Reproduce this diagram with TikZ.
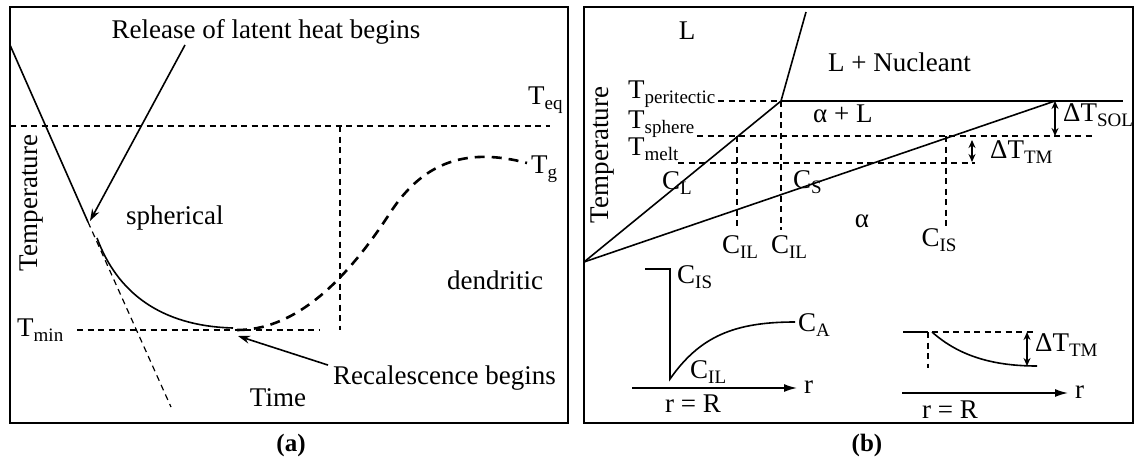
\documentclass[tikz,border=0pt]{standalone}
\usepackage{fontspec}
\setmainfont{Liberation Serif}
\usetikzlibrary{arrows.meta}
\newcommand{\lowsub}[1]{\raisebox{-5.5pt}{\fontsize{19}{20}\selectfont #1}}

\begin{document}
\begin{tikzpicture}[x=1pt,y=-1pt,
  every node/.style={font=\fontsize{27}{30}\selectfont, inner sep=0pt},
  frame/.style={line width=2.6pt},
  curve/.style={line width=1.6pt},
  guide/.style={line width=1.2pt, dash pattern=on 6pt off 4.5pt},
  growth/.style={line width=2.6pt, dash pattern=on 10pt off 7pt},
  tip/.style={-{Stealth[length=12pt,width=8pt]}},
  axis/.style={line width=1.6pt, -{Latex[length=13pt,width=8pt]}},
  gap/.style={line width=1.6pt, {Stealth[length=8pt,width=7pt]}-{Stealth[length=8pt,width=7pt]}}]
\useasboundingbox (0,0) rectangle (1134,460);

% Panel (a): cooling curve
\draw[frame] (10,7) rectangle (568,423);
\coordinate (cool) at (10,45);
\coordinate (nuc) at (88,222);
\draw[curve] (cool) -- (nuc);
\draw[guide] (nuc) -- (171,407);
\draw[guide] (10,126) -- (550,126);
\draw[guide] (340,126) -- (340,330);
\draw[guide] (77,330) -- (320,330);
\draw[curve] (97,238) .. controls (117,292) and (160,326) .. (233,328);
\draw[growth] (237,330) .. controls (290,330) and (340,290) .. (390,213)
  .. controls (425,159) and (470,148) .. (527,163);

% labels (a)
\node[anchor=base] (release) at (266,38) {Release of latent heat begins};
\coordinate (relfoot) at (185,45);
\draw[curve, tip] (relfoot) -- (90,221);
\node[anchor=base west] (teq) at (528,104) {T\lowsub{eq}};
\node[anchor=base west] (tg) at (531,173) {T\lowsub{g}};
\node[anchor=base west] (tmin) at (17,336) {T\lowsub{min}};
\node[rotate=90] (tempa) at (32,203) {Temperature};
\node[anchor=base west] (sph) at (126,224) {spherical};
\node[anchor=base] (dend) at (495,289) {dendritic};
\node[anchor=base west] (recal) at (333,384) {Recalescence begins};
\coordinate (recstart) at (238,336);
\draw[curve, tip] ([xshift=-5pt]recal.north west) -- (recstart);
\node[anchor=base] (time) at (278,406) {Time};
\node[font=\fontsize{25}{28}\selectfont\bfseries] (capa) at (291,445) {(a)};

% Panel (b): phase diagram
\draw[frame] (584,7) rectangle (1133,423);
\coordinate (origin) at (584,262);
\coordinate (peri) at (781,101);
\coordinate (solend) at (1055,101);
\draw[curve] (origin) -- (peri) -- (806,12);
\draw[curve] (peri) -- (1123,101);
\draw[curve] (origin) -- (solend);

\draw[guide] (718,101) -- (peri);
\draw[guide] (697,136) -- (1093,136);
\draw[guide] (678,163) -- (975,163);
\draw[guide] (737,136) -- (737,230);
\draw[guide] (peri) -- (781,230);
\draw[guide] (946,136) -- (946,230);
\draw[gap] (solend) -- (1055,136);
\draw[gap] (972,140) -- (972,162);

% labels (b)
\node[anchor=base] (liq) at (687,40) {L};
\node[anchor=base west] (lnuc) at (828,71) {L + Nucleant};
\node[rotate=90] (tempb) at (603,155) {Temperature};
\node[anchor=base west] (tper) at (628,98) {T\lowsub{peritectic}};
\node[anchor=base west] (tsph) at (628,128) {T\lowsub{sphere}};
\node[anchor=base west] (tmelt) at (628,155) {T\lowsub{melt}};
\node[anchor=base west] (al) at (813,122) {α + L};
\node[anchor=base west] (cl) at (662,189) {C\lowsub{L}};
\node[anchor=base west] (cs) at (793,188) {C\lowsub{S}};
\node[anchor=base] (alpha) at (862,227) {α};
\node[anchor=base] (cil1) at (740,253) {C\lowsub{IL}};
\node[anchor=base] (cil2) at (789,253) {C\lowsub{IL}};
\node[anchor=base] (cis) at (939,246) {C\lowsub{IS}};
\node[anchor=base west] (dsol) at (1063,121) {ΔT\lowsub{SOL}};
\node[anchor=base west] (dtm) at (990,158) {ΔT\lowsub{TM}};

% composition profile
\draw[curve] (645,269) -- (670,269) -- (670,379)
  .. controls (700,336) and (735,322) .. (795,322);
\draw[axis] (632,388) -- (797,388);
\node[anchor=base west] (cis2) at (677,283) {C\lowsub{IS}};
\node[anchor=base west] (ca) at (798,331) {C\lowsub{A}};
\node[anchor=base west] (cil3) at (690,378) {C\lowsub{IL}};
\node[anchor=base west] (ra) at (804,393) {r};
\node[anchor=base] (rra) at (693,412) {r = R};

% melting temperature profile
\draw[curve] (903,332) -- (928,332);
\draw[guide] (928,332) -- (928,368);
\draw[guide] (932,332) -- (1037,332);
\draw[curve] (932,332) .. controls (960,357) and (995,366) .. (1037,366);
\draw[gap] (1027,332) -- (1027,366);
\draw[axis] (902,393) -- (1068,393);
\node[anchor=base west] (dtm2) at (1035,351) {ΔT\lowsub{TM}};
\node[anchor=base west] (rb) at (1075,398) {r};
\node[anchor=base] (rrb) at (950,418) {r = R};
\node[font=\fontsize{25}{28}\selectfont\bfseries] (capb) at (867,445) {(b)};

\end{tikzpicture}
\end{document}
